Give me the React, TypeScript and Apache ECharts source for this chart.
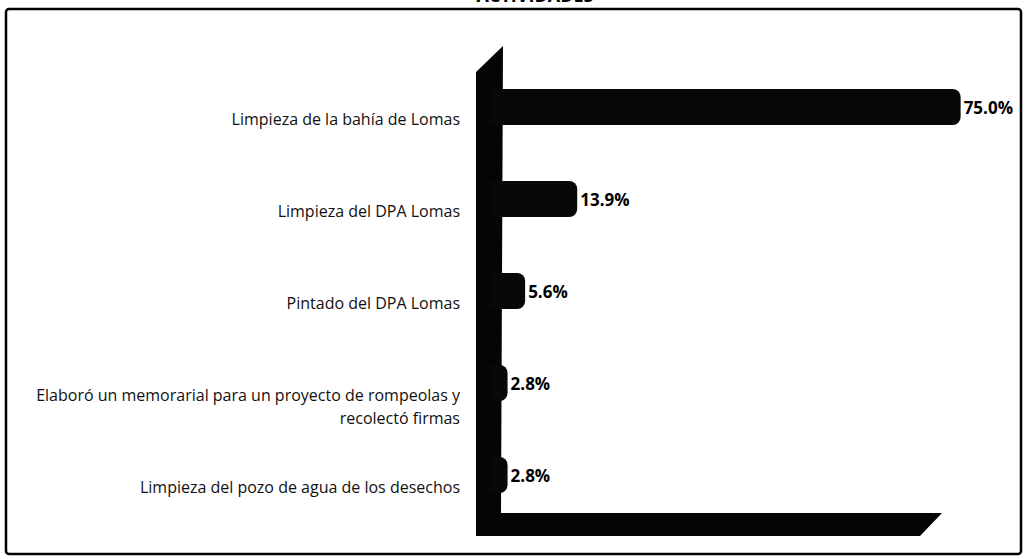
import React, { useEffect, useRef } from "react";
import * as echarts from "echarts";

const categories = [
  "Limpieza de la bahía de Lomas",
  "Limpieza del DPA Lomas",
  "Pintado del DPA Lomas",
  "Elaboró un memorarial para un proyecto de rompeolas y\nrecolectó firmas",
  "Limpieza del pozo de agua de los desechos",
];
const values = [75.0, 13.9, 5.6, 2.8, 2.8];
const titleText = "ACTIVIDADES";

export default function App() {
  const ref = useRef<HTMLDivElement>(null);
  useEffect(() => {
    if (!ref.current) return;
    const chart = echarts.init(ref.current, null, { renderer: "svg" });
    const font = "'Open Sans', Lato, sans-serif";
    chart.setOption({
      animation: false,
      backgroundColor: "#ffffff",
      grid: { left: 490, width: 502, top: 61, height: 460, containLabel: false },
      xAxis: {
        type: "value",
        min: 0,
        max: 80,
        show: false,
      },
      yAxis: {
        type: "category",
        data: categories.slice().reverse(),
        axisLine: { show: false },
        axisTick: { show: false },
        splitLine: { show: false },
        axisLabel: {
          margin: 30,
          color: "#111",
          fontFamily: font,
          fontSize: 16,
          lineHeight: 23,
          align: "right",
          verticalAlign: "top",
        },
      },
      graphic: [
        {
          type: "rect",
          z: 0,
          shape: { x: 6, y: 9, width: 1015, height: 545, r: 3 },
          style: { fill: "none", stroke: "#000", lineWidth: 2.5 },
        },
        {
          type: "text",
          z: 10,
          x: 535,
          y: -14,
          style: {
            text: titleText,
            fontFamily: font,
            fontWeight: "bold",
            fontSize: 18,
            fill: "#000",
            align: "center",
          },
        },
        {
          type: "polygon",
          z: 1,
          shape: {
            points: [
              [476, 72],
              [503, 46],
              [501, 513],
              [942, 513],
              [920, 536],
              [476, 536],
            ],
          },
          style: { fill: "#050505" },
        },
      ],
      series: [
        {
          type: "bar",
          z: 5,
          data: values.slice().reverse(),
          barWidth: 36,
          itemStyle: {
            color: "#080808",
            borderRadius: [0, 8, 8, 0],
          },
          label: {
            show: true,
            position: "right",
            distance: 3,
            formatter: (p: any) => p.value.toFixed(1) + "%",
            color: "#000",
            fontFamily: font,
            fontWeight: "bold",
            fontSize: 17,
          },
        },
      ],
    });
    return () => chart.dispose();
  }, []);
  return (
    <div
      ref={ref}
      style={{ position: "absolute", left: 0, top: 0, width: 1027, height: 559 }}
    />
  );
}
